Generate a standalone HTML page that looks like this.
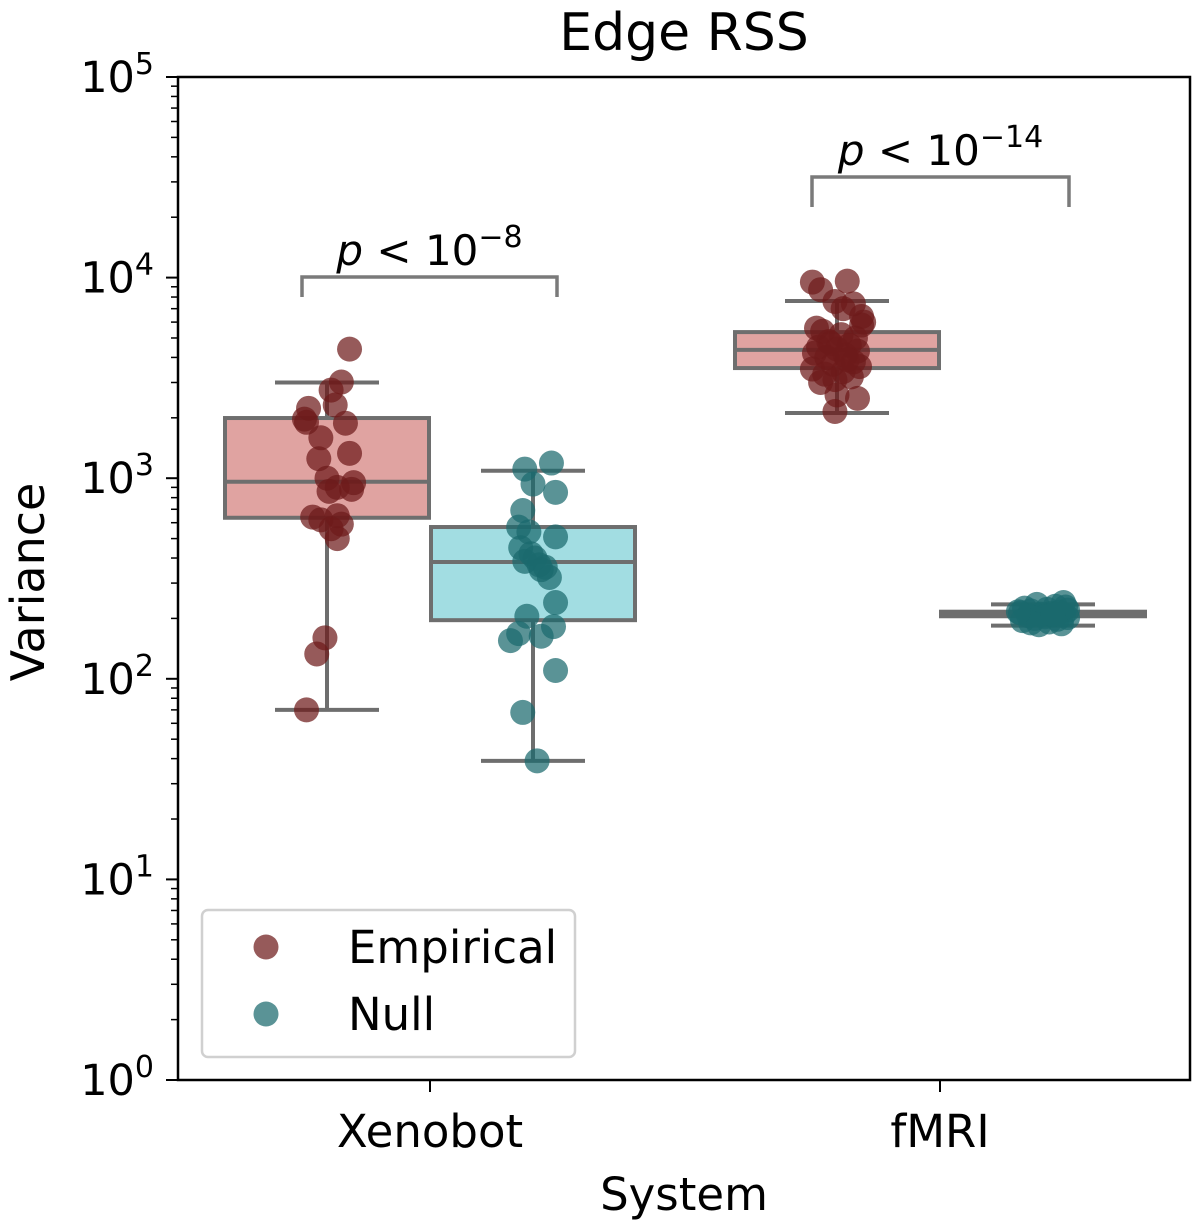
<!DOCTYPE html>
<html><head><meta charset="utf-8"><style>
html,body{margin:0;padding:0;background:#fff;}
svg{display:block;font-family:"DejaVu Sans","Liberation Sans",sans-serif;}
</style></head><body>
<svg id="chart" width="1200" height="1225" viewBox="0 0 1200 1225" xmlns="http://www.w3.org/2000/svg">
<text x="684" y="50" font-size="52" text-anchor="middle" fill="#000">Edge RSS</text>
<text transform="translate(44,582) rotate(-90)" font-size="46" text-anchor="middle" fill="#000">Variance</text>
<text x="684" y="1210" font-size="45" text-anchor="middle" fill="#000">System</text>
<g id="plot"></g>
</svg>
<script>
const categories = ["Xenobot", "fMRI"];
const groups = ["Empirical", "Null"];
// box stats [whiskerLow, Q1, median, Q3, whiskerHigh] per category per group
const boxEmpirical = [[70, 635, 960, 1995, 3000], [2115, 3540, 4360, 5350, 7640]];
const boxNull = [[39, 196, 382, 571, 1090], [184, 205, 212, 216, 235]];
// points: values and jitter (category-width fraction)
const xenoEmpVals = [4400,3015,2750,2317,2230,1970,1900,1880,1590,1330,1250,1000,950,880,860,640,650,590,500,160,133,70,560,620,900];
const xenoEmpJit = [0.11,0.07,0.02,0.04,-0.09,-0.11,-0.10,0.09,-0.03,0.11,-0.04,0.00,0.13,0.12,0.01,-0.07,0.05,0.07,0.05,-0.01,-0.05,-0.10,0.02,-0.03,0.05];
const xenoNullVals = [1110,1190,935,850,690,570,540,510,420,400,350,320,240,205,168,163,182,155,110,68,39,385,370,360,450];
const xenoNullJit = [-0.04,0.09,0.00,0.11,-0.05,-0.07,-0.02,0.11,-0.01,0.01,0.04,0.08,0.11,-0.03,-0.07,0.04,0.10,-0.11,0.11,-0.05,0.02,-0.04,0.03,0.06,-0.06];
const fmriEmpVals = [9500,9600,8700,7600,7400,7000,6400,6000,5600,5400,5200,5000,4800,4600,4500,4400,4300,4200,4100,4000,3800,3700,3600,3500,3400,3300,3200,3100,2600,2500,2150,4700,3900,5800,3000];
const fmriEmpJit = [-0.12,0.05,-0.08,-0.01,0.08,0.03,0.12,0.13,-0.10,-0.07,0.02,0.09,-0.04,0.06,-0.09,0.00,0.10,-0.11,0.04,-0.05,0.08,-0.02,0.11,-0.12,0.03,-0.06,0.07,-0.01,0.00,0.10,-0.01,-0.03,0.05,0.12,-0.08];
const fmriNullVals = [240,235,230,225,222,220,218,215,213,212,210,208,206,204,202,200,198,195,192,190,188,186,228,216,209];
const fmriNullJit = [0.10,-0.03,0.06,-0.09,0.02,0.12,-0.06,0.08,-0.11,0.04,-0.01,0.10,-0.07,0.01,0.12,-0.04,0.07,-0.10,0.03,-0.06,0.09,-0.02,0.11,-0.12,0.05];
const yTickExps = [0,1,2,3,4,5];
const pLabels = ["\u22128", "\u221214"];

const NS = "http://www.w3.org/2000/svg";
const L=178, R=1190, T=77, B=1080;
const catX = [430, 940];
const yMin=0, yMax=5;
function y(v){ return B - (Math.log10(v)-yMin)/(yMax-yMin)*(B-T); }
const groupOff = [-103, 103];
const catW = 410;
function gx(ci, gi, j){ return catX[ci] + groupOff[gi] + (j||0)*catW*0.5; }
const plot = document.getElementById('plot');
function mk(tag, attrs, parent){
  const e=document.createElementNS(NS,tag);
  for(const k in attrs) e.setAttribute(k, attrs[k]);
  (parent||plot).appendChild(e); return e;
}
const empFill="#e0a3a1", nullFill="#a2dde2", edge="#6e6e6e";
const empPt="#6e1a1a", nullPt="#1b6a6d";

function drawBox(ci, gi, st, fill){
  const cx=gx(ci,gi), hw=102, cw=52;
  const g=mk('g',{});
  
  
  mk('line',{x1:cx,x2:cx,y1:y(st[0]),y2:y(st[1]),stroke:edge,'stroke-width':4},g);
  mk('line',{x1:cx,x2:cx,y1:y(st[3]),y2:y(st[4]),stroke:edge,'stroke-width':4},g);
  mk('line',{x1:cx-cw,x2:cx+cw,y1:y(st[0]),y2:y(st[0]),stroke:edge,'stroke-width':4},g);
  mk('line',{x1:cx-cw,x2:cx+cw,y1:y(st[4]),y2:y(st[4]),stroke:edge,'stroke-width':4},g);
  mk('rect',{x:cx-hw,y:y(st[3]),width:hw*2,height:y(st[1])-y(st[3]),fill:fill,stroke:edge,'stroke-width':4},g);
  mk('line',{x1:cx-hw,x2:cx+hw,y1:y(st[2]),y2:y(st[2]),stroke:edge,'stroke-width':4},g);
}
for(let c=0;c<2;c++){ drawBox(c,0,boxEmpirical[c],empFill); drawBox(c,1,boxNull[c],nullFill); }

function drawPts(ci, gi, vals, jit, col){
  const g=mk('g',{});
  
  
  vals.forEach((v,i)=>{
    const c=mk('circle',{cx:gx(ci,gi,jit[i]),cy:y(v),r:12.5,fill:col,'fill-opacity':0.72},g);
    
    
  });
}
drawPts(0,0,xenoEmpVals,xenoEmpJit,empPt);
drawPts(0,1,xenoNullVals,xenoNullJit,nullPt);
drawPts(1,0,fmriEmpVals,fmriEmpJit,empPt);
drawPts(1,1,fmriNullVals,fmriNullJit,nullPt);

const frame=mk('rect',{x:L,y:T,width:R-L,height:B-T,fill:'none',stroke:'#000','stroke-width':2.5});


yTickExps.forEach(e=>{
  const yy=y(Math.pow(10,e));
  mk('line',{x1:L-12,x2:L,y1:yy,y2:yy,stroke:'#000','stroke-width':2});
  const t=mk('text',{x:L-24,y:yy+15,'font-size':43,'text-anchor':'end',fill:'#000'});
  
  
  t.appendChild(document.createTextNode('10'));
  const s=document.createElementNS(NS,'tspan'); s.setAttribute('dy','-18'); s.setAttribute('font-size','30'); s.textContent=e;
  t.appendChild(s);
  if(e<5){ for(let m=2;m<10;m++){ const my=y(m*Math.pow(10,e)); mk('line',{x1:L-7,x2:L,y1:my,y2:my,stroke:'#000','stroke-width':1.5}); } }
});
categories.forEach((c,i)=>{
  mk('line',{x1:catX[i],x2:catX[i],y1:B,y2:B+12,stroke:'#000','stroke-width':2});
  const t=mk('text',{x:catX[i],y:1147,'font-size':45,'text-anchor':'middle',fill:'#000'});
  
  
  t.textContent=c;
});
const brk=[{x1:302,x2:557,top:277,bot:297,ty:265},{x1:812,x2:1069,top:177,bot:207,ty:165}];
brk.forEach((b,i)=>{
  const p=mk('path',{d:`M${b.x1},${b.bot} L${b.x1},${b.top} L${b.x2},${b.top} L${b.x2},${b.bot}`,fill:'none',stroke:'#7a7a7a','stroke-width':3.5});
  
  
  const t=mk('text',{x:(b.x1+b.x2)/2,y:b.ty,'font-size':42,'text-anchor':'middle',fill:'#000'});
  
  
  const a=document.createElementNS(NS,'tspan'); a.setAttribute('font-style','italic'); a.textContent='p'; t.appendChild(a);
  t.appendChild(document.createTextNode(' < 10'));
  const s=document.createElementNS(NS,'tspan'); s.setAttribute('dy','-18'); s.setAttribute('font-size','30'); s.textContent=pLabels[i]; t.appendChild(s);
});
const lg=mk('g',{});


mk('rect',{x:202,y:910,width:373,height:147,rx:6,fill:'#fff','fill-opacity':0.8,stroke:'#d0d0d0','stroke-width':2.5},lg);
[[empPt,'Empirical',947],[nullPt,'Null',1014]].forEach(([col,lab,yy])=>{
  const e=mk('g',{},lg);
  
  
  mk('circle',{cx:266,cy:yy,r:12.5,fill:col,'fill-opacity':0.72},e);
  const t=mk('text',{x:348,y:yy+16,'font-size':45,fill:'#000'},e);
  t.textContent=lab;
});
</script>
</body></html>
